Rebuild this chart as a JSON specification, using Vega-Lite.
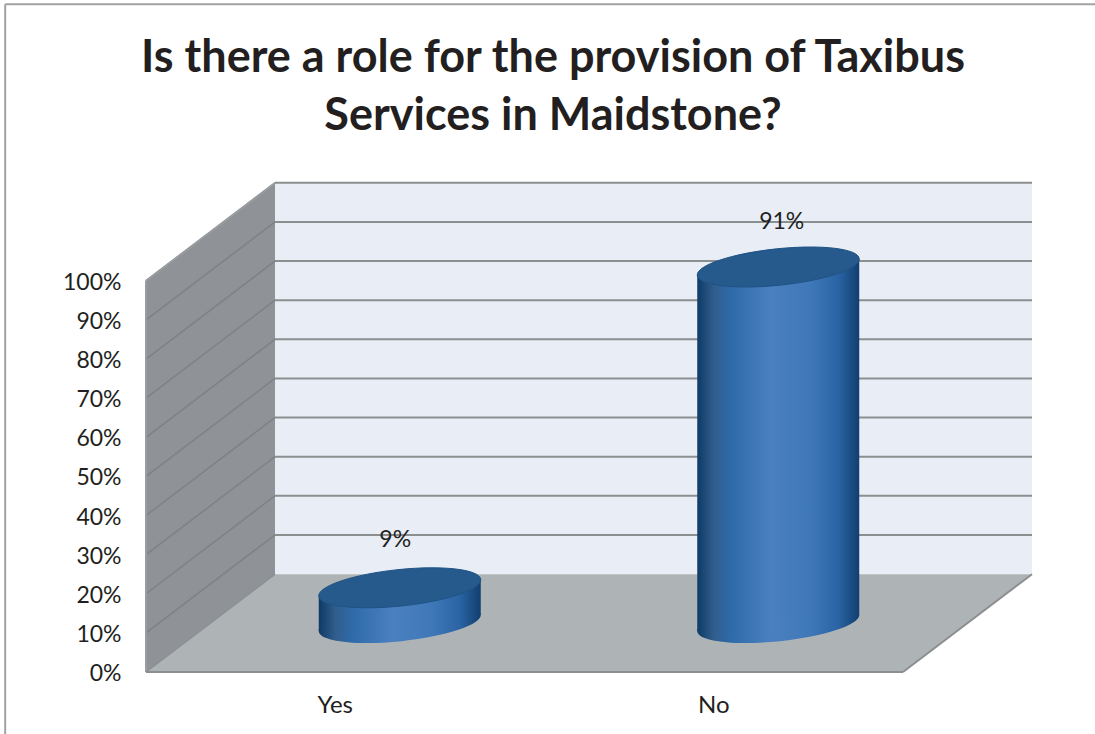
{
  "$schema": "https://vega.github.io/schema/vega-lite/v6.json",
  "autosize": {"type": "none"},
  "width": 886,
  "height": 489,
  "padding": {"left": 146, "top": 183, "right": 63, "bottom": 62},
  "background": "#ffffff",
  "config": {"view": {"stroke": null}},
  "title": {
    "text": ["Is there a role for the provision of Taxibus", "Services in Maidstone?"],
    "font": "Lato",
    "fontWeight": "bold",
    "fontSize": 45,
    "lineHeight": 58,
    "color": "#231f20",
    "anchor": "middle",
    "frame": "group",
    "dx": -36,
    "offset": -136
  },
  "datasets": {
    "answers": [
      {"answer": "Yes", "pct": 9, "label": "9%"},
      {"answer": "No", "pct": 91, "label": "91%"}
    ],
    "gridlines": [
      {"pct": 10}, {"pct": 20}, {"pct": 30}, {"pct": 40}, {"pct": 50},
      {"pct": 60}, {"pct": 70}, {"pct": 80}, {"pct": 90}, {"pct": 100}
    ],
    "sideWall": [
      {"across": 0, "upper": 100, "lower": 0},
      {"across": 17.04, "upper": 125, "lower": 25}
    ],
    "floor": [
      {"across": 0, "upper": 0, "lower": 0},
      {"across": 17.04, "upper": 25, "lower": 0},
      {"across": 100, "upper": 25, "lower": 0},
      {"across": 117.04, "upper": 25, "lower": 25}
    ],
    "backWall": [
      {"across": 17.04, "upper": 125, "lower": 25},
      {"across": 117.04, "upper": 125, "lower": 25}
    ]
  },
  "resolve": {"scale": {"x": "independent"}, "axis": {"x": "independent", "y": "independent"}},
  "layer": [
    {
      "description": "Outer border of the chart area",
      "data": {"values": [{}]},
      "mark": {"type": "rule", "color": "#a2a2a4", "strokeWidth": 2},
      "encoding": {
        "x": {"datum": -18.6, "type": "quantitative", "scale": {"domain": [0, 117.04]}, "axis": null},
        "y": {"datum": 170.7, "type": "quantitative", "scale": {"domain": [0, 125]}, "axis": null},
        "y2": {"datum": -16}
      }
    },
    {
      "data": {"values": [{}]},
      "mark": {"type": "rule", "color": "#a2a2a4", "strokeWidth": 2},
      "encoding": {
        "x": {"datum": -18.6, "type": "quantitative", "scale": {"domain": [0, 117.04]}, "axis": null},
        "x2": {"datum": 125.4},
        "y": {"datum": 170.7, "type": "quantitative", "scale": {"domain": [0, 125]}, "axis": null}
      }
    },
    {
      "data": {"name": "backWall"},
      "mark": {"type": "area", "color": "#e9eef6", "opacity": 1},
      "encoding": {
        "x": {"field": "across", "type": "quantitative", "scale": {"domain": [0, 117.04]}, "axis": null},
        "y": {"field": "upper", "type": "quantitative", "scale": {"domain": [0, 125]}, "axis": null},
        "y2": {"field": "lower"}
      }
    },
    {
      "data": {"name": "sideWall"},
      "mark": {"type": "area", "color": "#8f9296", "opacity": 1},
      "encoding": {
        "x": {"field": "across", "type": "quantitative", "scale": {"domain": [0, 117.04]}, "axis": null},
        "y": {"field": "upper", "type": "quantitative", "scale": {"domain": [0, 125]}, "axis": null},
        "y2": {"field": "lower"}
      }
    },
    {
      "data": {"name": "floor"},
      "mark": {"type": "area", "color": "#aeb3b5", "opacity": 1},
      "encoding": {
        "x": {"field": "across", "type": "quantitative", "scale": {"domain": [0, 117.04]}, "axis": null},
        "y": {"field": "upper", "type": "quantitative", "scale": {"domain": [0, 125]}, "axis": null},
        "y2": {"field": "lower"}
      }
    },
    {
      "description": "Gridlines across the back wall, each set back by the chart depth",
      "data": {"name": "gridlines"},
      "mark": {"type": "rule", "color": "#8c8f90", "strokeWidth": 2, "yOffset": -98},
      "encoding": {
        "x": {"datum": 17.04, "type": "quantitative", "scale": {"domain": [0, 117.04]}, "axis": null},
        "x2": {"datum": 117.04},
        "y": {"field": "pct", "type": "quantitative", "scale": {"domain": [0, 125]}, "axis": null}
      }
    },
    {
      "description": "The same gridlines slanting along the side wall",
      "data": {"name": "gridlines"},
      "mark": {"type": "rule", "color": "#7f8284", "strokeWidth": 1.5, "y2Offset": -98},
      "encoding": {
        "x": {"datum": 0, "type": "quantitative", "scale": {"domain": [0, 117.04]}, "axis": null},
        "x2": {"datum": 17.04},
        "y": {"field": "pct", "type": "quantitative", "scale": {"domain": [0, 125]}, "axis": null},
        "y2": {"field": "pct"}
      }
    },
    {
      "description": "Front edge of the floor, carrying the percentage axis",
      "data": {"values": [{}]},
      "mark": {"type": "rule", "color": "#8c8f90", "strokeWidth": 2},
      "encoding": {
        "x": {"datum": 0, "type": "quantitative", "scale": {"domain": [0, 117.04]}, "axis": null},
        "x2": {"datum": 100},
        "y": {
          "datum": 0,
          "type": "quantitative",
          "scale": {"domain": [0, 125]},
          "axis": {
            "values": [0, 10, 20, 30, 40, 50, 60, 70, 80, 90, 100],
            "labelExpr": "datum.value + '%'",
            "title": null,
            "domain": false,
            "ticks": false,
            "grid": false,
            "labelFont": "Lato",
            "labelFontSize": 23,
            "labelColor": "#231f20",
            "labelPadding": 25,
            "labelOffset": 1.5
          }
        }
      }
    },
    {
      "data": {"values": [{}]},
      "mark": {"type": "rule", "color": "#8c8f90", "strokeWidth": 2},
      "encoding": {
        "x": {"datum": 100, "type": "quantitative", "scale": {"domain": [0, 117.04]}, "axis": null},
        "x2": {"datum": 117.04},
        "y": {"datum": 0, "type": "quantitative", "scale": {"domain": [0, 125]}, "axis": null},
        "y2": {"datum": 25}
      }
    },
    {
      "data": {"values": [{}]},
      "mark": {"type": "rule", "color": "#9a9da0", "strokeWidth": 2},
      "encoding": {
        "x": {"datum": 0, "type": "quantitative", "scale": {"domain": [0, 117.04]}, "axis": null},
        "y": {"datum": 0, "type": "quantitative", "scale": {"domain": [0, 125]}, "axis": null},
        "y2": {"datum": 100}
      }
    },
    {
      "data": {"values": [{}]},
      "mark": {"type": "rule", "color": "#9a9da0", "strokeWidth": 2},
      "encoding": {
        "x": {"datum": 0, "type": "quantitative", "scale": {"domain": [0, 117.04]}, "axis": null},
        "x2": {"datum": 17.04},
        "y": {"datum": 100, "type": "quantitative", "scale": {"domain": [0, 125]}, "axis": null},
        "y2": {"datum": 125}
      }
    },
    {
      "data": {"values": [{}]},
      "mark": {"type": "rule", "color": "#8c8f90", "strokeWidth": 1.5},
      "encoding": {
        "x": {"datum": 0, "type": "quantitative", "scale": {"domain": [0, 117.04]}, "axis": null},
        "x2": {"datum": 17.04},
        "y": {"datum": 0, "type": "quantitative", "scale": {"domain": [0, 125]}, "axis": null},
        "y2": {"datum": 25}
      }
    },
    {
      "description": "Rounded foot of each cylinder",
      "data": {"name": "answers"},
      "mark": {
        "type": "point",
        "filled": true,
        "opacity": 1,
        "size": 26244,
        "xOffset": 64.5,
        "yOffset": -49,
        "shape": "M-1,0.104 A1.005,0.225,-5.94,1,1,1,-0.104 A1.005,0.225,-5.94,1,1,-1,0.104 Z",
        "fill": {
          "gradient": "linear", "x1": 0, "x2": 1, "y1": 0, "y2": 0,
          "stops": [
            {"offset": 0, "color": "#0e3a66"},
            {"offset": 0.1, "color": "#315d8c"},
            {"offset": 0.2, "color": "#2e6aa8"},
            {"offset": 0.45, "color": "#4a80c0"},
            {"offset": 0.7, "color": "#3f78b8"},
            {"offset": 0.87, "color": "#2a64a4"},
            {"offset": 1, "color": "#113e6f"}
          ]
        }
      },
      "encoding": {
        "x": {
          "field": "answer",
          "type": "nominal",
          "sort": null,
          "scale": {"type": "band", "domain": ["Yes", "No"], "range": [0, 757]},
          "axis": null
        },
        "y": {"datum": 0, "type": "quantitative", "scale": {"domain": [0, 125]}, "axis": null}
      }
    },
    {
      "description": "Right half of the cylinder body; its ends follow the tilt of the ellipses",
      "data": {"name": "answers"},
      "mark": {
        "type": "bar",
        "width": 81,
        "xOffset": 105,
        "yOffset": -57,
        "y2Offset": -57,
        "fill": {
          "gradient": "linear", "x1": 0, "x2": 1, "y1": 0, "y2": 0,
          "stops": [
            {"offset": 0, "color": "#487ebe"},
            {"offset": 0.4, "color": "#3f78b8"},
            {"offset": 0.74, "color": "#2a64a4"},
            {"offset": 1, "color": "#113e6f"}
          ]
        }
      },
      "encoding": {
        "x": {
          "field": "answer",
          "type": "nominal",
          "sort": null,
          "scale": {"type": "band", "domain": ["Yes", "No"], "range": [0, 757]},
          "axis": null
        },
        "y": {"field": "pct", "type": "quantitative", "scale": {"domain": [0, 125]}, "axis": null},
        "y2": {"datum": 0}
      }
    },
    {
      "description": "Left half of the cylinder body, lapping over the right half",
      "data": {"name": "answers"},
      "mark": {
        "type": "bar",
        "width": 83,
        "xOffset": 25,
        "yOffset": -41,
        "y2Offset": -41,
        "fill": {
          "gradient": "linear", "x1": 0, "x2": 1, "y1": 0, "y2": 0,
          "stops": [
            {"offset": 0, "color": "#0e3a66"},
            {"offset": 0.2, "color": "#315d8c"},
            {"offset": 0.4, "color": "#2e6aa8"},
            {"offset": 0.88, "color": "#4a80c0"},
            {"offset": 1, "color": "#487ebe"}
          ]
        }
      },
      "encoding": {
        "x": {
          "field": "answer",
          "type": "nominal",
          "sort": null,
          "scale": {"type": "band", "domain": ["Yes", "No"], "range": [0, 757]},
          "axis": {
            "title": null,
            "labelAngle": 0,
            "domain": false,
            "ticks": false,
            "grid": false,
            "labelFont": "Lato",
            "labelFontSize": 24,
            "labelColor": "#231f20",
            "labelPadding": 21
          }
        },
        "y": {"field": "pct", "type": "quantitative", "scale": {"domain": [0, 125]}, "axis": null},
        "y2": {"datum": 0}
      }
    },
    {
      "description": "Flat top of each cylinder",
      "data": {"name": "answers"},
      "mark": {
        "type": "point",
        "filled": true,
        "opacity": 1,
        "size": 26244,
        "xOffset": 64.5,
        "yOffset": -49,
        "shape": "M-1,0.104 A1.005,0.225,-5.94,1,1,1,-0.104 A1.005,0.225,-5.94,1,1,-1,0.104 Z",
        "fill": "#265a8c",
        "stroke": "#1f5285",
        "strokeWidth": 1
      },
      "encoding": {
        "x": {
          "field": "answer",
          "type": "nominal",
          "sort": null,
          "scale": {"type": "band", "domain": ["Yes", "No"], "range": [0, 757]},
          "axis": null
        },
        "y": {"field": "pct", "type": "quantitative", "scale": {"domain": [0, 125]}, "axis": null}
      }
    },
    {
      "description": "Value label over the Yes cylinder",
      "data": {"name": "answers"},
      "transform": [{"filter": "datum.answer === 'Yes'"}],
      "mark": {"type": "text", "font": "Lato", "fontSize": 23, "color": "#231f20", "xOffset": 60, "yOffset": -97},
      "encoding": {
        "x": {
          "field": "answer",
          "type": "nominal",
          "sort": null,
          "scale": {"type": "band", "domain": ["Yes", "No"], "range": [0, 757]},
          "axis": null
        },
        "y": {"field": "pct", "type": "quantitative", "scale": {"domain": [0, 125]}, "axis": null},
        "text": {"field": "label"}
      }
    },
    {
      "description": "Value label over the No cylinder",
      "data": {"name": "answers"},
      "transform": [{"filter": "datum.answer === 'No'"}],
      "mark": {"type": "text", "font": "Lato", "fontSize": 23, "color": "#231f20", "xOffset": 68, "yOffset": -94},
      "encoding": {
        "x": {
          "field": "answer",
          "type": "nominal",
          "sort": null,
          "scale": {"type": "band", "domain": ["Yes", "No"], "range": [0, 757]},
          "axis": null
        },
        "y": {"field": "pct", "type": "quantitative", "scale": {"domain": [0, 125]}, "axis": null},
        "text": {"field": "label"}
      }
    }
  ]
}
